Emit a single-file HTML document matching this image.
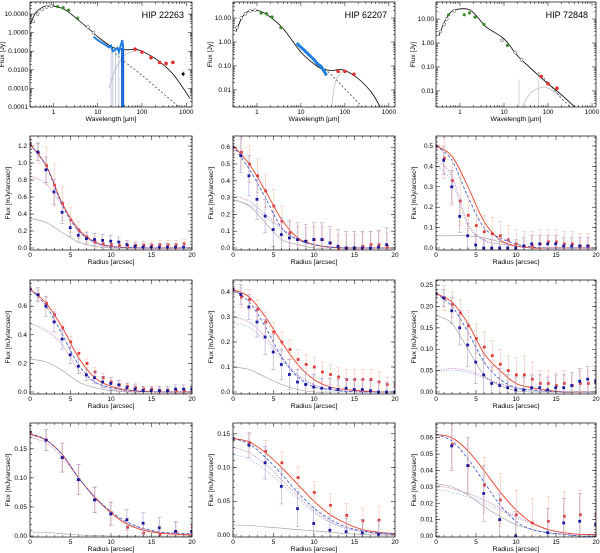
<!DOCTYPE html>
<html><head><meta charset="utf-8"><style>
html,body{margin:0;padding:0;background:#fff}
svg{display:block;font-family:"Liberation Sans",sans-serif}
</style></head><body>
<svg id="fig" width="600" height="553" viewBox="0 0 600 553" xmlns="http://www.w3.org/2000/svg"></svg>
<script>
// ===== SED data (wavelength um, flux Jy) =====
const sedNames = ["HIP 22263","HIP 62207","HIP 72848"];
const sedTotalLam = [
 [0.3,0.4,0.6,0.8,1.2,2,4,7,10,20,30,50,70,100,200,500,1200],
 [0.33,0.45,0.6,0.8,1.2,2,4,10,20,30,50,70,100,200,400,630],
 [0.33,0.45,0.6,0.8,1.6,2.5,4,10,20,40,70,100,200,420]];
const sedTotalFlux = [
 [3,12,25,27,25,15,4,1.3,0.6,0.18,0.13,0.12,0.13,0.1,0.04,0.006,0.0003],
 [2.6,10,18,21,19,11,3.5,0.38,0.12,0.075,0.065,0.07,0.065,0.03,0.008,0.002],
 [2,8,18,25,25,12,4.5,1.5,0.3,0.09,0.035,0.02,0.007,0.002]];
const sedStarLam = [[20,30,100,400,700],[30,60,100,200,400],[60,100,200,400]];
const sedStarFlux = [[0.18,0.05,0.005,0.0003,0.0001],[0.1,0.03,0.011,0.003,0.0008],[0.06,0.022,0.005,0.0015]];
const sedDiskLam = [[18,25,40,70,100,200],[50,60,80,100],[25,40,70,100,200]];
const sedDiskFlux = [[0.001,0.01,0.06,0.1,0.1,0.04],[0.002,0.02,0.05,0.065],[0.002,0.008,0.014,0.013,0.006]];
const sedGreenLam = [[1.25,1.65,2.2,3.5],[1.25,1.65,2.2,3.5],[0.55,1.25,1.65,2.2,3.5,12]];
const sedGreenFlux = [[25,22,16,6],[16,15,11,4],[15,15,18,12,6,0.8]];
const sedOpenLam = [[0.35,0.44,0.55,0.7,0.9,6,8],[0.35,0.44,0.55,0.7,0.9],[0.36,0.44,0.5,0.75,9,18,25]];
const sedOpenFlux = [[4,10,18,24,27,2,1],[4,10,15,20,21],[3,6,10,22,1.3,0.4,0.2]];
const sedRedLam = [[70,100,160,250,350,500],[70,100,160],[70,100,160]];
const sedRedFlux = [[0.13,0.09,0.045,0.025,0.022,0.025],[0.06,0.06,0.045],[0.04,0.02,0.013]];
const sedIrsLam = [[8,10,12,15,18,20,22,25,28,30,33,36,38],[8,10,12,15,18,20,24,28,32,36,38],[]];
const sedIrsFlux = [[0.6,0.4,0.3,0.22,0.16,0.2,0.1,0.12,0.15,0.09,0.2,0.4,0.12],[0.9,0.6,0.45,0.3,0.22,0.18,0.12,0.1,0.07,0.05,0.04],[]];

// ===== Radial profile data =====
const profR = [
 [0,1,2,3,4,5,6,7,8,9,10,11,12,13,14,15,16,17,18,19],
 [0,1,2,3,4,5,6,7,8,9,10,11,12,13,14,15,16,17,18,19,20],
 [0,2,4,6,8,10,12,14,16,18,20]];
const blueVals = [
 [[1.22,1.13,0.92,0.66,0.42,0.24,0.15,0.11,0.10,0.09,0.08,0.07,0.04,0.02,0.01,0.01,0.01,0.01,0.01,0.01],
  [0.60,0.55,0.43,0.29,0.19,0.11,0.08,0.06,0.05,0.04,0.05,0.05,0.03,0.01,0,0,0,0,0.005,0.02],
  [0.50,0.43,0.30,0.155,0.06,0.015,0.0,0,0,0,0,0.01,0.02,0.02,0.02,0.02,0.01,0.01,0.01,0.01]],
 [[0.72,0.68,0.60,0.49,0.37,0.26,0.18,0.12,0.10,0.07,0.06,0.05,0.03,0.02,0.01,0.01,0.01,0.01,0.02,0.02,0.02],
  [0.41,0.39,0.34,0.28,0.22,0.16,0.11,0.07,0.04,0.03,0.02,0.015,0.015,0.01,0.015,0.01,0.01,0.005,0,0,0],
  [0.23,0.22,0.19,0.15,0.11,0.07,0.04,0.02,0.015,0.01,0.005,0.005,0.01,0.01,0.005,0.01,0.01,0.015,0.025,0.03,0.025]],
 [[0.178,0.165,0.135,0.097,0.062,0.038,0.028,0.022,0.014,0.008,0.007],
  [0.143,0.133,0.107,0.072,0.039,0.017,0.007,0.005,0.003,0.001,null],
  [null,0.055,0.043,0.026,0.010,0.000,null,0.002,0.008,0.009,0.007]]];
const blueErr = [
 [[0.05,0.1,0.15,0.15,0.13,0.1,0.08,0.07,0.07,0.07,0.07,0.06,0.05,0.04,0.04,0.04,0.04,0.04,0.04,0.04],
  [0.05,0.1,0.12,0.12,0.1,0.1,0.1,0.1,0.1,0.1,0.1,0.1,0.1,0.1,0.1,0.1,0.1,0.1,0.1,0.1],
  [0.05,0.07,0.08,0.08,0.06,0.05,0.04,0.04,0.04,0.04,0.04,0.04,0.04,0.04,0.04,0.04,0.04,0.04,0.04,0.04]],
 [[0.02,0.05,0.07,0.07,0.07,0.06,0.05,0.04,0.04,0.04,0.04,0.03,0.03,0.03,0.03,0.03,0.03,0.03,0.03,0.03,0.03],
  [0.02,0.04,0.05,0.06,0.07,0.07,0.06,0.06,0.05,0.05,0.05,0.04,0.04,0.04,0.04,0.04,0.04,0.04,0.04,0.04,0.04],
  [0.01,0.02,0.03,0.04,0.05,0.05,0.05,0.04,0.04,0.03,0.03,0.03,0.03,0.03,0.03,0.03,0.03,0.03,0.03,0.03,0.03]],
 [[0.005,0.018,0.025,0.026,0.022,0.02,0.018,0.018,0.018,0.017,0.017],
  [0.005,0.018,0.024,0.026,0.026,0.024,0.02,0.02,0.02,0.02,0.02],
  [0,0.015,0.017,0.017,0.016,0.015,0.015,0.015,0.015,0.017,0.017]]];
const redVals = [
 [[1.22,1.12,0.97,0.74,0.52,0.33,0.21,0.13,0.07,0.05,0.04,0.03,0.03,0.03,0.03,0.03,0.04,0.04,0.04,0.05],
  [0.60,0.57,0.50,0.43,0.34,0.25,0.16,0.09,0.05,0.04,0.05,0.05,0.03,0,0,0,0.01,0.02,0.02,0.01],
  [0.50,0.44,0.33,0.23,0.16,0.11,0.08,0.07,0.06,0.04,0.02,0.01,0.01,0.02,0.03,0.03,0.02,0.02,0.01,0.01]],
 [[0.72,0.68,0.62,0.54,0.45,0.35,0.27,0.20,0.14,0.10,0.07,0.05,0.04,0.03,0.02,0.02,0.01,0.01,0.01,0.01,0.01],
  [0.41,0.38,0.37,0.33,0.28,0.24,0.20,0.17,0.13,0.11,0.10,0.08,0.07,0.06,0.05,0.05,0.05,0.05,0.04,0.03,0.03],
  [0.23,0.22,0.205,0.185,0.155,0.125,0.105,0.085,0.065,0.05,0.04,0.04,0.03,0.02,0.02,0.015,0.02,0.015,0.02,0.02,0.02]],
 [[0.178,0.165,0.135,0.097,0.063,0.04,0.015,0.005,0.003,0.007,0.015],
  [0.143,0.137,0.124,0.107,0.085,0.063,0.044,0.029,0.021,0.022,null],
  [null,0.056,0.043,0.031,0.022,0.013,0.008,0.009,0.012,0.013,0.013]]];
const redErr = [
 [[0.05,0.12,0.22,0.25,0.2,0.15,0.1,0.07,0.06,0.05,0.05,0.05,0.05,0.05,0.05,0.05,0.05,0.05,0.05,0.05],
  [0.05,0.1,0.11,0.1,0.1,0.1,0.09,0.08,0.08,0.08,0.08,0.08,0.08,0.08,0.08,0.08,0.08,0.08,0.08,0.08],
  [0.05,0.1,0.12,0.12,0.1,0.08,0.08,0.08,0.07,0.07,0.07,0.07,0.07,0.07,0.06,0.06,0.06,0.06,0.06,0.06]],
 [[0.02,0.04,0.04,0.04,0.04,0.04,0.03,0.03,0.03,0.03,0.03,0.03,0.03,0.03,0.02,0.02,0.02,0.02,0.02,0.02,0.02],
  [0.02,0.04,0.04,0.04,0.04,0.04,0.04,0.04,0.04,0.04,0.04,0.04,0.04,0.04,0.04,0.04,0.04,0.04,0.04,0.03,0.03],
  [0.01,0.03,0.03,0.03,0.035,0.035,0.035,0.035,0.035,0.035,0.04,0.045,0.04,0.03,0.03,0.03,0.03,0.03,0.03,0.03,0.03]],
 [[0.005,0.018,0.025,0.026,0.022,0.02,0.016,0.016,0.016,0.016,0.016],
  [0.005,0.015,0.016,0.016,0.016,0.016,0.017,0.018,0.019,0.02,0],
  [0,0.015,0.017,0.017,0.016,0.015,0.015,0.015,0.015,0.015,0.015]]];
const curveR = [0,2,4,6,8,10,12,14,16,18,20];
const redModel = [
 [[1.22,0.97,0.52,0.22,0.07,0.02,0.005,0,0,0,0],[0.61,0.50,0.34,0.17,0.06,0.02,0.005,0,0,0,0],[0.50,0.45,0.30,0.13,0.04,0.01,0,0,0,0,0]],
 [[0.72,0.62,0.45,0.24,0.10,0.04,0.015,0.005,0,0,0],[0.41,0.38,0.30,0.20,0.11,0.05,0.02,0.01,0.004,0,0],[0.23,0.21,0.16,0.09,0.05,0.02,0.01,0.004,0,0,0]],
 [[0.175,0.165,0.14,0.10,0.067,0.04,0.02,0.01,0.005,0.003,0.002],[0.143,0.138,0.122,0.10,0.075,0.05,0.03,0.017,0.008,0.004,0.002],[0.062,0.060,0.052,0.040,0.027,0.016,0.008,0.004,0.002,0.001,0.001]]];
const blueModel = [
 [[1.22,0.96,0.50,0.20,0.07,0.02,0.005,0,0,0,0],[0.61,0.47,0.30,0.12,0.05,0.02,0.005,0,0,0,0],[0.50,0.43,0.25,0.10,0.05,0.02,0.005,0,0,0,0]],
 [[0.72,0.60,0.40,0.19,0.07,0.03,0.01,0.003,0,0,0],[0.41,0.36,0.26,0.14,0.06,0.02,0.01,0.003,0,0,0],[0.23,0.20,0.14,0.07,0.03,0.01,0.005,0.002,0,0,0]],
 [[0.177,0.165,0.14,0.10,0.067,0.042,0.024,0.013,0.007,0.005,0.004],[0.143,0.135,0.115,0.09,0.063,0.04,0.023,0.012,0.006,0.003,0.002],[0.062,0.058,0.047,0.033,0.019,0.009,0.004,0.002,0.001,0,0]]];
const diskComp = [
 [[0.85,0.75,0.50,0.20,0.06,0.01,0,0,0,0,0],[0.31,0.28,0.20,0.12,0.05,0.02,0.005,0,0,0,0],[0.44,0.35,0.12,0.04,0.02,0.01,0,0,0,0,0]],
 [[0.48,0.43,0.33,0.15,0.07,0.02,0.005,0,0,0,0],[0.30,0.28,0.22,0.14,0.07,0.03,0.01,0.003,0,0,0],[0.05,0.055,0.05,0.035,0.02,0.01,0.004,0,0,0,0]],
 [[0.17,0.16,0.135,0.10,0.065,0.04,0.022,0.012,0.006,0.004,0.003],[0.13,0.122,0.105,0.082,0.058,0.036,0.02,0.01,0.005,0.002,0.001],[0.031,0.029,0.026,0.022,0.017,0.012,0.008,0.004,0.002,0.001,0.001]]];
const starComp = [
 [[0.35,0.30,0.18,0.07,0.02,0,0,0,0,0,0],[0.29,0.25,0.15,0.05,0.02,0,0,0,0,0,0],[0.06,0.06,0.06,0.05,0.03,0.01,0,0,0,0,0]],
 [[0.23,0.21,0.15,0.07,0.03,0.01,0,0,0,0,0],[0.10,0.09,0.06,0.03,0.01,0,0,0,0,0,0],[0.18,0.16,0.10,0.04,0.015,0.003,0,0,0,0,0]],
 [[0.007,0.006,0.004,0.002,0.001,0,0,0,0,0,0],[0.015,0.014,0.012,0.010,0.008,0.006,0.004,0.002,0.001,0,0],[0.032,0.030,0.025,0.018,0.012,0.007,0.004,0.002,0.001,0,0]]];
const yTickStep = [[0.2,0.1,0.1],[0.2,0.1,0.05],[0.05,0.05,0.01]];
const yTickDec = [[1,1,1],[1,1,2],[2,2,2]];
const yTickMax = [[1.2,0.6,0.5],[0.6,0.4,0.25],[0.15,0.15,0.06]];
const yDomMax = [[1.318,0.667,0.549],[0.783,0.448,0.262],[0.1945,0.166,0.069]];
const yDomMin = [[-0.0235,-0.012,-0.0098],[-0.014,-0.008,-0.0047],[-0.0017,-0.003,-0.0006]];
const xTicks = [0,5,10,15,20];

const colX = [[30,192],[233,395],[436,596]];
const rowY = [[2,107],[136,250],[280,394],[423,537]];
const sedXDom = [[-0.53,3.13],[-0.545,3.14],[-0.545,3.09]];
const sedYDom = [[-4,1.65],[-2.71,1.667],[-2.67,1.71]];
const sedYTicks = [[1,0,-1,-2,-3,-4],[1,0,-1,-2],[1,0,-1,-2]];
const sedYLabels = [["10.0000","1.0000","0.1000","0.0100","0.0010","0.0001"],["10.00","1.00","0.10","0.01"],["10.00","1.00","0.10","0.01"]];
const sedXTicks = [0,1,2,3];
const sedXLabels = ["1","10","100","1000"];

const NS="http://www.w3.org/2000/svg";
const fig=document.getElementById('fig');
function el(tag,attrs,parent){const e=document.createElementNS(NS,tag);for(const k in attrs)e.setAttribute(k,attrs[k]);(parent||fig).appendChild(e);return e;}
function smooth(pts){
  if(pts.length<2)return "";
  let d="M"+pts[0][0].toFixed(1)+","+pts[0][1].toFixed(1);
  for(let i=0;i<pts.length-1;i++){
    const p0=pts[i-1]||pts[i],p1=pts[i],p2=pts[i+1],p3=pts[i+2]||p2;
    const c1=[p1[0]+(p2[0]-p0[0])/6,p1[1]+(p2[1]-p0[1])/6],c2=[p2[0]-(p3[0]-p1[0])/6,p2[1]-(p3[1]-p1[1])/6];
    d+="C"+c1[0].toFixed(1)+","+c1[1].toFixed(1)+" "+c2[0].toFixed(1)+","+c2[1].toFixed(1)+" "+p2[0].toFixed(1)+","+p2[1].toFixed(1);
  }
  return d;
}
function frame(g,x0,x1,y0,y1,xMajor,yMajor,xMinor,yMinor){
  el('rect',{x:x0,y:y0,width:x1-x0,height:y1-y0,fill:'none',stroke:'#000','stroke-width':0.7},g);
  xMajor.forEach(x=>{el('line',{x1:x,x2:x,y1:y1,y2:y1-4,stroke:'#000','stroke-width':0.5},g);el('line',{x1:x,x2:x,y1:y0,y2:y0+4,stroke:'#000','stroke-width':0.5},g);});
  xMinor.forEach(x=>{el('line',{x1:x,x2:x,y1:y1,y2:y1-2,stroke:'#000','stroke-width':0.5},g);el('line',{x1:x,x2:x,y1:y0,y2:y0+2,stroke:'#000','stroke-width':0.5},g);});
  yMajor.forEach(y=>{el('line',{x1:x0,x2:x0+4,y1:y,y2:y,stroke:'#000','stroke-width':0.5},g);el('line',{x1:x1,x2:x1-4,y1:y,y2:y,stroke:'#000','stroke-width':0.5},g);});
  yMinor.forEach(y=>{el('line',{x1:x0,x2:x0+2,y1:y,y2:y,stroke:'#000','stroke-width':0.5},g);el('line',{x1:x1,x2:x1-2,y1:y,y2:y,stroke:'#000','stroke-width':0.5},g);});
}
function txt(g,x,y,s,anchor,size,rot){const t=el('text',{x:x,y:y,'font-size':size||6.5,'text-anchor':anchor||'middle',fill:'#000'},g);if(rot)t.setAttribute('transform','rotate(-90 '+x+' '+y+')');t.textContent=s;return t;}

// ===== SED panels =====
for(let c=0;c<3;c++){
  const [x0,x1]=colX[c],[y0,y1]=rowY[0];
  const g=el('g',{});
  
  
  const sx=l=>x0+(Math.log10(l)-sedXDom[c][0])/(sedXDom[c][1]-sedXDom[c][0])*(x1-x0);
  const sy=f=>y1-(Math.log10(f)-sedYDom[c][0])/(sedYDom[c][1]-sedYDom[c][0])*(y1-y0);
  const syl=l=>y1-(l-sedYDom[c][0])/(sedYDom[c][1]-sedYDom[c][0])*(y1-y0);
  const sxl=l=>x0+(l-sedXDom[c][0])/(sedXDom[c][1]-sedXDom[c][0])*(x1-x0);
  const xm=[],xmi=[],ym=[],ymi=[];
  sedXTicks.forEach(t=>xm.push(sxl(t)));
  for(let d=-1;d<4;d++)for(let k=2;k<10;k++){const v=d+Math.log10(k);if(v>sedXDom[c][0]&&v<sedXDom[c][1])xmi.push(sxl(v));}
  sedYTicks[c].forEach(t=>ym.push(syl(t)));
  for(let d=-5;d<2;d++)for(let k=2;k<10;k++){const v=d+Math.log10(k);if(v>sedYDom[c][0]&&v<sedYDom[c][1])ymi.push(syl(v));}
  const clipId='clipsed'+c;
  const cp=el('clipPath',{id:clipId},g);el('rect',{x:x0,y:y0,width:x1-x0,height:y1-y0},cp);
  const pg=el('g',{'clip-path':'url(#'+clipId+')'},g);
  const disk=el('path',{d:smooth(sedDiskLam[c].map((l,i)=>[sx(l),sy(sedDiskFlux[c][i])])),fill:'none',stroke:'#aaa','stroke-width':0.6},pg);
  
  
  const star=el('path',{d:smooth(sedStarLam[c].map((l,i)=>[sx(l),sy(sedStarFlux[c][i])])),fill:'none',stroke:'#333','stroke-width':0.7,'stroke-dasharray':'2,2'},pg);
  
  
  const tot=el('path',{d:smooth(sedTotalLam[c].map((l,i)=>[sx(l),sy(sedTotalFlux[c][i])])),fill:'none',stroke:'#000','stroke-width':0.8},pg);
  
  
  if(sedIrsLam[c].length){
    if(c===0){[20,22,25,30,35,38].forEach(l=>el('line',{x1:sx(l),x2:sx(l),y1:sy(0.15),y2:y1,stroke:l>34?'#1060d0':'#9ac','stroke-width':l>34?1.5:0.6},pg));}
    const irs=el('polyline',{points:sedIrsLam[c].map((l,i)=>sx(l)+","+sy(sedIrsFlux[c][i])).join(' '),fill:'none',stroke:'#1e7fe0','stroke-width':c===0?2:3},pg);
    
    
  } else {
    [22,60].forEach(l=>el('line',{x1:sx(l),x2:sx(l),y1:sy(0.03),y2:y1,stroke:'#bbb','stroke-width':0.6},pg));
  }
  sedOpenLam[c].forEach((l,i)=>{const p=el('circle',{cx:sx(l),cy:sy(sedOpenFlux[c][i]),r:1.5,fill:'#fff',stroke:'#444','stroke-width':0.5},pg);});
  sedGreenLam[c].forEach((l,i)=>{const p=el('circle',{cx:sx(l),cy:sy(sedGreenFlux[c][i]),r:1.6,fill:'#3a8a2a'},pg);});
  sedRedLam[c].forEach((l,i)=>{const p=el('circle',{cx:sx(l),cy:sy(sedRedFlux[c][i]),r:1.8,fill:'#e03030'},pg);});
  if(c===0){el('circle',{cx:sx(850),cy:sy(0.006),r:1.5,fill:'#000'},pg);el('line',{x1:sx(850),x2:sx(850),y1:sy(0.008),y2:sy(0.0045),stroke:'#000','stroke-width':0.5},pg);}
  frame(g,x0,x1,y0,y1,xm,ym,xmi,ymi);
  sedXTicks.forEach((t,i)=>{const lbl=txt(g,sxl(t),y1+7,sedXLabels[i]);});
  sedYTicks[c].forEach((t,i)=>{const lbl=txt(g,x0-2,syl(t)+2,sedYLabels[c][i],'end');});
  const xt=txt(g,(x0+x1)/2,y1+14,'Wavelength [µm]','middle',6.8);
  
  
  const yt=txt(g,x0-(c===0?26:21),(y0+y1)/2,'Flux [Jy]','middle',6.8,true);
  
  
  const tt=txt(g,x1-8,y0+16,sedNames[c],'end',9);
  
  
}

// ===== Radial profile panels =====
for(let r=0;r<3;r++)for(let c=0;c<3;c++){
  const [x0,x1]=colX[c],[y0,y1]=rowY[r+1];
  const g=el('g',{});
  
  
  const ymn=yDomMin[r][c],ymx=yDomMax[r][c];
  const sx=v=>x0+v/20*(x1-x0);
  const sy=v=>y1-(v-ymn)/(ymx-ymn)*(y1-y0);
  const cp=el('clipPath',{id:'cp'+r+c},g);el('rect',{x:x0,y:y0,width:x1-x0,height:y1-y0},cp);
  const pg=el('g',{'clip-path':'url(#cp'+r+c+')'},g);
  const curve=(arr,color,dash,w,name)=>{const p=el('path',{d:smooth(curveR.map((x,i)=>[sx(x),sy(arr[i])])),fill:'none',stroke:color,'stroke-width':w||0.7},pg);if(dash)p.setAttribute('stroke-dasharray',dash);};
  curve(starComp[r][c],'#999',null,0.6,'stellar-component-curve');
  curve(diskComp[r][c],'#c070b0','1.2,1.2',0.7,'disk-component-curve');
  if(c>0) curve(diskComp[r][c].map(v=>v*0.92),'#6f8fe0','1,1.5',0.6,'blue-disk-component-curve');
  curve(redModel[r][c],'#e8402a',null,0.9,'red-model-curve');
  curve(blueModel[r][c],'#3050d0','3,2',0.8,'blue-model-curve');
  const R=profR[r];
  const drawPts=(vals,errs,col,ecol,off,name)=>{R.forEach((x,i)=>{const v=vals[i];if(v==null)return;const px=sx(x)+off;const e=errs[i];
    if(e>0){el('line',{x1:px,x2:px,y1:sy(v-e),y2:sy(v+e),stroke:ecol,'stroke-width':0.5},pg);el('line',{x1:px-2,x2:px+2,y1:sy(v+e),y2:sy(v+e),stroke:ecol,'stroke-width':0.5},pg);el('line',{x1:px-2,x2:px+2,y1:sy(v-e),y2:sy(v-e),stroke:ecol,'stroke-width':0.5},pg);}
    const p=el('rect',{x:px-1.4,y:sy(v)-1.4,width:2.8,height:2.8,fill:col},pg);});};
  drawPts(redVals[r][c],redErr[r][c],'#e03a3a','#f5b8a0',0.3,'red-profile-point');
  drawPts(blueVals[r][c],blueErr[r][c],'#1a1aa0','#9d8cc8',-0.3,'blue-profile-point');
  const xm=xTicks.map(sx),xmi=[];for(let v=1;v<20;v++)if(v%5)xmi.push(sx(v));
  const ym=[],ymi=[];const st=yTickStep[r][c];
  for(let v=0;v<=yTickMax[r][c]+1e-9;v+=st){ym.push(sy(v));}
  for(let v=st/5;v<ymx;v+=st/5){ymi.push(sy(v));}
  frame(g,x0,x1,y0,y1,xm,ym,xmi,ymi);
  xTicks.forEach(t=>{const l=txt(g,sx(t),y1+7,String(t));});
  for(let v=0;v<=yTickMax[r][c]+1e-9;v+=st){const l=txt(g,x0-3,sy(v)+2,v.toFixed(yTickDec[r][c]),'end');}
  const xt=txt(g,(x0+x1)/2,y1+14,'Radius [arcsec]','middle',6.8);
  
  
  const yt=txt(g,x0-20,(y0+y1)/2,'Flux [mJy/arcsec²]','middle',6.5,true);
  
  
}
</script>
</body></html>
